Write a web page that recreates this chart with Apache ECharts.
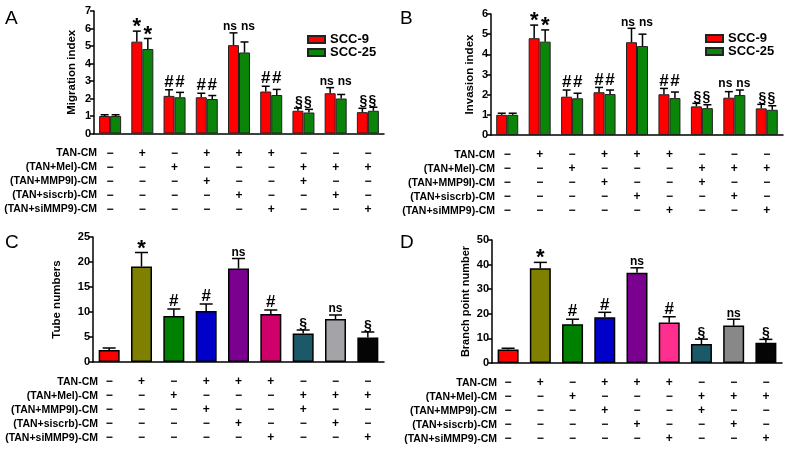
<!DOCTYPE html>
<html>
<head>
<meta charset="utf-8">
<title>TAN-CM migration / invasion / tube formation</title>
<script src="https://cdn.jsdelivr.net/npm/echarts@6/dist/echarts.min.js"></script>
<style>
html, body { margin: 0; padding: 0; background: #fff; }
#chart { width: 790px; height: 449px; }
</style>
</head>
<body>
<div id="chart"></div>
<script>
// 九组处理条件
const groups = ['ctrl', 'TAN', 'Mel', 'MMP9I', 'siscrb', 'siMMP9', 'Mel+MMP9I', 'Mel+siscrb', 'Mel+siMMP9'];

// 处理条件表格 (1 = +, 0 = −)
const rowNames = ['TAN-CM', '(TAN+Mel)-CM', '(TAN+MMP9I)-CM', '(TAN+siscrb)-CM', '(TAN+siMMP9)-CM'];
const rowTan    = [0, 1, 0, 1, 1, 1, 0, 0, 0];
const rowMel    = [0, 0, 1, 0, 0, 0, 1, 1, 1];
const rowMmp9i  = [0, 0, 0, 1, 0, 0, 1, 0, 0];
const rowSiscrb = [0, 0, 0, 0, 1, 0, 0, 1, 0];
const rowSimmp9 = [0, 0, 0, 0, 0, 1, 0, 0, 1];

// A: Migration index
const migScc9     = [1.0, 5.25, 2.15, 2.07, 5.05, 2.4, 1.3, 2.3, 1.22];
const migScc9Err  = [0.07, 0.6, 0.35, 0.23, 0.7, 0.3, 0.15, 0.32, 0.22];
const migScc25    = [1.0, 4.83, 2.07, 1.97, 4.63, 2.2, 1.2, 2.0, 1.3];
const migScc25Err = [0.07, 0.6, 0.28, 0.2, 0.6, 0.32, 0.18, 0.23, 0.2];
const migMarks9   = ['', '*', '#', '#', 'ns', '#', '§', 'ns', '§'];
const migMarks25  = ['', '*', '#', '#', 'ns', '#', '§', 'ns', '§'];

// B: Invasion index
const invScc9     = [1.0, 4.8, 1.9, 2.12, 4.6, 2.02, 1.42, 1.85, 1.32];
const invScc9Err  = [0.08, 0.65, 0.33, 0.24, 0.69, 0.29, 0.15, 0.3, 0.2];
const invScc25    = [1.0, 4.63, 1.82, 2.03, 4.41, 1.83, 1.33, 1.98, 1.25];
const invScc25Err = [0.08, 0.58, 0.25, 0.2, 0.59, 0.3, 0.17, 0.25, 0.2];
const invMarks9   = ['', '*', '#', '#', 'ns', '#', '§', 'ns', '§'];
const invMarks25  = ['', '*', '#', '#', 'ns', '#', '§', 'ns', '§'];

// C: Tube numbers
const tubeVals  = [2.4, 19.1, 9.2, 10.2, 18.7, 9.6, 5.7, 8.6, 4.9];
const tubeErr   = [0.4, 2.8, 1.4, 1.4, 2.0, 0.8, 0.7, 0.8, 1.1];
const tubeMarks = ['', '*', '#', '#', 'ns', '#', '§', 'ns', '§'];

// D: Branch point number
const branchVals  = [5.5, 38.5, 15.8, 18.6, 36.7, 16.5, 7.7, 15.2, 8.2];
const branchErr   = [0.5, 2.4, 2.0, 2.0, 2.0, 2.3, 2.0, 2.6, 1.4];
const branchMarks = ['', '*', '#', '#', 'ns', '#', '§', 'ns', '§'];

// 轴刻度 [min, max, interval]
const yTicksA = [0, 7, 1];
const yTicksB = [0, 6, 1];
const yTicksC = [0, 25, 5];
const yTicksD = [0, 50, 10];

const FONT = '"Liberation Sans", Arial, sans-serif';
const paletteC = ['#ff0000', '#7f7f00', '#008000', '#0000c8', '#7a0090', '#d0006a', '#1b5868', '#a3a3a8', '#050505'];
const paletteD = ['#ff0000', '#7f7f00', '#008000', '#0000c8', '#7a0090', '#ff2f8f', '#1b5868', '#888888', '#050505'];

const grids = [
    { left: 94, top: 11, width: 290, height: 122.5 },
    { left: 491, top: 14, width: 292, height: 121 },
    { left: 93, top: 237, width: 291, height: 125 },
    { left: 492, top: 240, width: 290, height: 123 }
];
const tableRows = [rowTan, rowMel, rowMmp9i, rowSiscrb, rowSimmp9];
const ROW_H = 14;
const LABEL_MARGIN = 13;

const markStyle = {
    '*': { size: 22, dy: 7 },
    '#': { size: 17, dy: 1 },
    'ns': { size: 12, dy: 0 },
    '§': { size: 14, dy: 1 }
};

// 成对标注放在同一高度 (* 除外)
function markLevels (v1, e1, m1, v2, e2, m2) {
    return v1.map((v, i) => {
        const own = v + e1[i];
        if (m1[i] && m1[i] === m2[i] && m1[i] !== '*') {
            return Math.max(own, v2[i] + e2[i]);
        }
        return own;
    });
}

function errSeries (idx, values, errs, marks, levels, offset, capW) {
    return {
        type: 'custom',
        xAxisIndex: idx,
        yAxisIndex: idx,
        z: 5,
        silent: true,
        data: values.map((v, i) => [i, v, errs[i]]),
        renderItem: function (params, api) {
            const i = params.dataIndex;
            const base = api.coord([api.value(0), api.value(1)]);
            const top = api.coord([api.value(0), api.value(1) + api.value(2)]);
            const x = base[0] + offset;
            const children = [
                { type: 'line', shape: { x1: x, y1: base[1], x2: x, y2: top[1] }, style: { stroke: '#000', lineWidth: 1.5 } },
                { type: 'line', shape: { x1: x - capW / 2, y1: top[1], x2: x + capW / 2, y2: top[1] }, style: { stroke: '#000', lineWidth: 1.5 } }
            ];
            const mark = marks[i];
            if (mark) {
                const st = markStyle[mark];
                const my = api.coord([api.value(0), levels[i]])[1];
                // 成对的 ns 向两侧分开, § 向中间靠拢
                let shift = 0;
                if (offset && mark === 'ns') shift = Math.sign(offset) * 3.5;
                if (offset && mark === '§') shift = -Math.sign(offset) * 1;
                children.push({
                    type: 'text',
                    x: x + shift,
                    y: my + st.dy,
                    style: {
                        text: mark, fontSize: st.size, fontWeight: 'bold', fontFamily: FONT,
                        fill: '#000', align: 'center', verticalAlign: 'bottom'
                    }
                });
            }
            return { type: 'group', children: children };
        }
    };
}

function xAxisFor (idx) {
    return {
        type: 'category',
        gridIndex: idx,
        data: groups,
        axisLine: { lineStyle: { color: '#000', width: 1.5 } },
        axisTick: { alignWithLabel: true, length: 4, lineStyle: { color: '#000', width: 1.5 } },
        axisLabel: {
            interval: 0,
            margin: LABEL_MARGIN,
            lineHeight: ROW_H,
            fontSize: 12,
            fontWeight: 'bold',
            fontFamily: FONT,
            color: '#000',
            formatter: (v, i) => tableRows.map(r => (r[i] ? '+' : '−')).join('\n')
        }
    };
}

function yAxisFor (idx, ticks, name, nameGap, nameSize) {
    return {
        type: 'value',
        gridIndex: idx,
        min: ticks[0],
        max: ticks[1],
        interval: ticks[2],
        name: name,
        nameLocation: 'middle',
        nameGap: nameGap,
        nameTextStyle: { fontSize: nameSize, fontWeight: 'bold', fontFamily: FONT, color: '#000' },
        splitLine: { show: false },
        axisLine: { show: true, lineStyle: { color: '#000', width: 1.5 } },
        axisTick: { show: true, length: 4, lineStyle: { color: '#000', width: 1.5 } },
        axisLabel: { margin: 3, fontSize: 11, fontWeight: 'bold', fontFamily: FONT, color: '#000' }
    };
}

function legendAt (left, top) {
    return {
        left: left,
        top: top,
        orient: 'vertical',
        data: ['SCC-9', 'SCC-25'],
        icon: 'rect',
        itemWidth: 17,
        itemHeight: 7,
        itemGap: 0,
        selectedMode: false,
        textStyle: { fontSize: 13, fontWeight: 'bold', fontFamily: FONT, color: '#000', lineHeight: 12 }
    };
}

// 表格左侧行名
function rowLabels (idx, right) {
    const g = grids[idx];
    const y0 = g.top + g.height + LABEL_MARGIN;
    return rowNames.map((n, i) => ({
        type: 'text',
        x: right,
        y: y0 + ROW_H * (i + 0.5),
        style: {
            text: n, fontSize: 10.5, fontWeight: 'bold', fontFamily: FONT,
            fill: '#000', align: 'right', verticalAlign: 'middle'
        }
    }));
}

function panelLetter (t, x, y) {
    return { type: 'text', x: x, y: y, style: { text: t, fontSize: 19, fontFamily: FONT, fill: '#000' } };
}

const levMig9 = markLevels(migScc9, migScc9Err, migMarks9, migScc25, migScc25Err, migMarks25);
const levMig25 = markLevels(migScc25, migScc25Err, migMarks25, migScc9, migScc9Err, migMarks9);
const levInv9 = markLevels(invScc9, invScc9Err, invMarks9, invScc25, invScc25Err, invMarks25);
const levInv25 = markLevels(invScc25, invScc25Err, invMarks25, invScc9, invScc9Err, invMarks9);
const levTube = tubeVals.map((v, i) => v + tubeErr[i]);
const levBranch = branchVals.map((v, i) => v + branchErr[i]);

const pairBar = (idx, name, data, color) => ({
    type: 'bar',
    name: name,
    xAxisIndex: idx,
    yAxisIndex: idx,
    data: data,
    barWidth: 11,
    barGap: '0%',
    itemStyle: { color: color, borderColor: '#222', borderWidth: 1 }
});

const singleBar = (idx, data, palette) => ({
    type: 'bar',
    xAxisIndex: idx,
    yAxisIndex: idx,
    data: data,
    barWidth: 21,
    itemStyle: { color: p => palette[p.dataIndex], borderColor: '#000', borderWidth: 1.5 }
});

const myChart = echarts.init(document.getElementById('chart'), null, { renderer: 'canvas' });

myChart.setOption({
    animation: false,
    backgroundColor: '#fff',
    textStyle: { fontFamily: FONT },
    grid: grids,
    xAxis: [xAxisFor(0), xAxisFor(1), xAxisFor(2), xAxisFor(3)],
    yAxis: [
        yAxisFor(0, yTicksA, 'Migration index', 16, 11.5),
        yAxisFor(1, yTicksB, 'Invasion index', 15.5, 11.5),
        yAxisFor(2, yTicksC, 'Tube numbers', 30, 11.5),
        yAxisFor(3, yTicksD, 'Branch point number', 20.5, 11)
    ],
    legend: [legendAt(302, 28), legendAt(700, 27)],
    series: [
        pairBar(0, 'SCC-9', migScc9, '#ff0000'),
        pairBar(0, 'SCC-25', migScc25, '#0a850a'),
        errSeries(0, migScc9, migScc9Err, migMarks9, levMig9, -5.5, 8),
        errSeries(0, migScc25, migScc25Err, migMarks25, levMig25, 5.5, 8),

        pairBar(1, 'SCC-9', invScc9, '#ff0000'),
        pairBar(1, 'SCC-25', invScc25, '#0a850a'),
        errSeries(1, invScc9, invScc9Err, invMarks9, levInv9, -5.5, 8),
        errSeries(1, invScc25, invScc25Err, invMarks25, levInv25, 5.5, 8),

        singleBar(2, tubeVals, paletteC),
        errSeries(2, tubeVals, tubeErr, tubeMarks, levTube, 0, 13),

        singleBar(3, branchVals, paletteD),
        errSeries(3, branchVals, branchErr, branchMarks, levBranch, 0, 13)
    ],
    graphic: [
        panelLetter('A', 5, 9),
        panelLetter('B', 400, 9),
        panelLetter('C', 5, 233),
        panelLetter('D', 400, 233)
    ].concat(rowLabels(0, 97), rowLabels(1, 495), rowLabels(2, 98), rowLabels(3, 497))
});

window.addEventListener('resize', function () {
    myChart.resize();
});
</script>
</body>
</html>
